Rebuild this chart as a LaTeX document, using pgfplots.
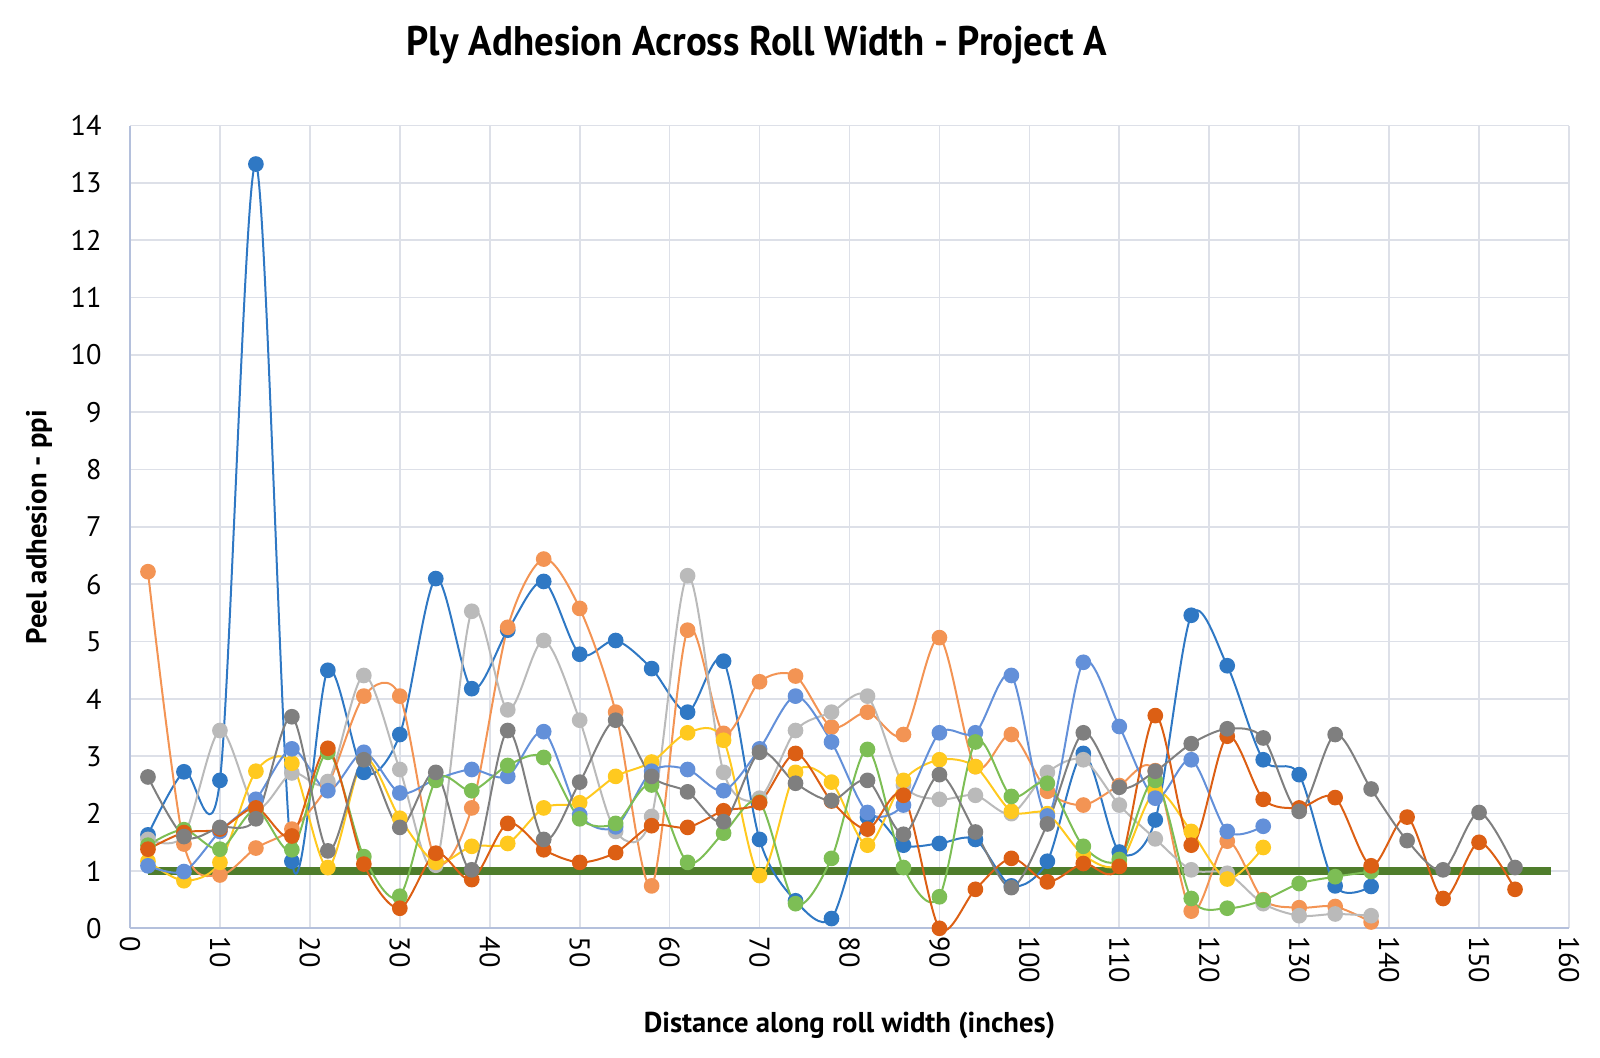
\documentclass[border=0pt]{standalone}
\usepackage{fontspec}
\setmainfont{PT Sans}
\usepackage{pgfplots}
\usepackage{pgfplotstable}
\pgfplotsset{compat=1.18}
\definecolor{sA}{HTML}{2F78C4}
\definecolor{sB}{HTML}{F39454}
\definecolor{sC}{HTML}{BABABA}
\definecolor{sD}{HTML}{FFC91F}
\definecolor{sE}{HTML}{6390D9}
\definecolor{sF}{HTML}{7DBE55}
\definecolor{sG}{HTML}{DC5F14}
\definecolor{sH}{HTML}{7F7F7F}
\definecolor{thr}{HTML}{4F7D2C}
\definecolor{gridc}{HTML}{DDE0E8}
\definecolor{axc}{HTML}{B4C0DC}
\pgfplotstableread{
x   s1    s2    s3    s4    s5    s6    s7    s8
2   1.63  6.22  1.55  1.17  1.09  1.45  1.38  2.64
6   2.73  1.47  1.62  0.83  0.99  1.72  1.67  1.60
10  2.58  0.93  3.45  1.15  1.69  1.38  1.73  1.76
14  13.33 1.40  2.10  2.74  2.25  2.07  2.10  1.91
18  1.17  1.73  2.71  2.88  3.13  1.37  1.61  3.69
22  4.50  2.50  2.56  1.06  2.40  3.07  3.14  1.35
26  2.72  4.05  4.41  2.95  3.07  1.25  1.12  2.94
30  3.38  4.05  2.77  1.92  2.36  0.56  0.35  1.76
34  6.10  1.18  1.10  1.15  2.60  2.58  1.31  2.72
38  4.18  2.10  5.53  1.43  2.77  2.40  0.85  1.02
42  5.20  5.25  3.81  1.48  2.65  2.84  1.83  3.45
46  6.05  6.44  5.02  2.10  3.43  2.98  1.37  1.55
50  4.78  5.58  3.63  2.19  1.98  1.91  1.15  2.55
54  5.02  3.77  1.69  2.65  1.77  1.83  1.32  3.63
58  4.53  0.74  1.95  2.90  2.74  2.50  1.79  2.65
62  3.77  5.20  6.15  3.41  2.77  1.15  1.76  2.38
66  4.66  3.40  2.72  3.28  2.40  1.66  2.05  1.86
70  1.55  4.30  2.27  0.92  3.13  2.20  2.19  3.07
74  0.48  4.40  3.45  2.72  4.05  0.43  3.05  2.53
78  0.17  3.51  3.77  2.55  3.25  1.22  2.22  2.23
82  1.94  3.77  4.05  1.45  2.02  3.12  1.73  2.58
86  1.45  3.38  2.50  2.58  2.15  1.06  2.32  1.64
90  1.48  5.07  2.25  2.94  3.41  0.55  0.00  2.68
94  1.55  2.82  2.32  2.82  3.41  3.25  0.68  1.68
98  0.74  3.38  2.00  2.04  4.41  2.30  1.22  0.71
102 1.17  2.39  2.72  2.00  1.96  2.53  0.81  1.82
106 3.05  2.15  2.94  1.28  4.64  1.43  1.13  3.41
110 1.33  2.49  2.15  1.12  3.52  1.20  1.08  2.46
114 1.89  2.75  1.56  2.39  2.27  2.58  3.71  2.74
118 5.46  0.30  1.02  1.69  2.94  0.52  1.45  3.22
122 4.58  1.52  0.96  0.86  1.69  0.35  3.35  3.48
126 2.94  0.50  0.43  1.41  1.78  0.49  2.25  3.32
130 2.68  0.36  0.22  nan   nan   0.78  2.10  2.04
134 0.74  0.38  0.25  nan   nan   0.90  2.28  3.38
138 0.73  0.11  0.22  nan   nan   0.99  1.09  2.43
142 nan   nan   nan   nan   nan   nan   1.94  1.53
146 nan   nan   nan   nan   nan   nan   0.52  1.02
150 nan   nan   nan   nan   nan   nan   1.50  2.02
154 nan   nan   nan   nan   nan   nan   0.68  1.06
}\data
\begin{document}
\begin{tikzpicture}
\useasboundingbox (-39pt,-38.61pt) rectangle (441pt,278.49pt);
\begin{axis}[
  scale only axis, width=431.7pt, height=240.8pt,
  at={(0,0)}, anchor=south west,
  xmin=0, xmax=160, ymin=0, ymax=14,
  xtick={0,10,...,160}, ytick={0,1,...,14},
  axis x line*=bottom, axis y line*=left,
  axis line style={axc, line width=0.6pt},
  grid=major, major grid style={gridc, line width=0.5pt},
  major tick length=0pt,
  tick label style={font=\fontsize{8.5}{10}\selectfont},
  /pgf/number format/assume math mode=true,
  xticklabel style={rotate=-90, anchor=west, xshift=-1pt},
  yticklabel style={anchor=east, xshift=-5pt},
  xlabel={\textbf{Distance along roll width (inches)}},
  ylabel={\textbf{Peel adhesion - ppi}},
  label style={font=\fontsize{8.6}{10}\selectfont},
  xlabel style={at={(rel axis cs:0.5,0)}, anchor=center, yshift=-29pt},
  ylabel style={at={(rel axis cs:0,0.5)}, anchor=center, yshift=27.3pt},
  every axis plot/.append style={smooth, line width=0.6pt, mark=*, mark size=2.05pt},
  clip=false,
]
\addplot[thr, line width=2.4pt, mark=none, sharp plot] coordinates {(2,1) (158,1)};
\addplot[sA, mark options={fill=sA, draw=sA}] table[x=x, y=s1] {\data};
\addplot[sB, mark options={fill=sB, draw=sB}] table[x=x, y=s2] {\data};
\addplot[sC, mark options={fill=sC, draw=sC}] table[x=x, y=s3] {\data};
\addplot[sD, mark options={fill=sD, draw=sD}] table[x=x, y=s4] {\data};
\addplot[sE, mark options={fill=sE, draw=sE}] table[x=x, y=s5] {\data};
\addplot[sF, mark options={fill=sF, draw=sF}] table[x=x, y=s6] {\data};
\addplot[sG, mark options={fill=sG, draw=sG}] table[x=x, y=s7] {\data};
\addplot[sH, mark options={fill=sH, draw=sH}] table[x=x, y=s8] {\data};
\node[font=\bfseries\fontsize{12.4}{14}\selectfont, anchor=center, yshift=24.2pt] at (rel axis cs:0.4357,1) {\addfontfeature{FakeStretch=0.94}Ply Adhesion Across Roll Width - Project A};
\end{axis}
\end{tikzpicture}
\end{document}
